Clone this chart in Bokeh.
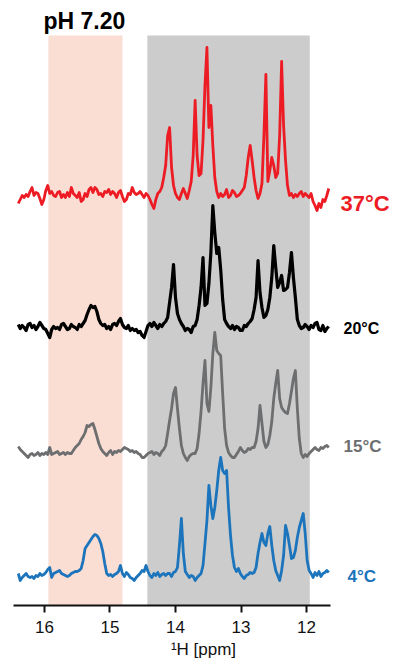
from bokeh.plotting import figure
from bokeh.models import Range1d, BoxAnnotation, Label, FixedTicker
from bokeh.embed import file_html
from bokeh.resources import INLINE

# chemical shift grid (ppm), shared by all four spectra
ppm = [
    16.40, 16.37, 16.34, 16.31, 16.28, 16.25, 16.22, 16.19, 16.16, 16.13,
    16.10, 16.07, 16.04, 16.01, 15.98, 15.95, 15.92, 15.89, 15.86, 15.83,
    15.80, 15.77, 15.74, 15.71, 15.68, 15.65, 15.62, 15.59, 15.56, 15.53,
    15.50, 15.47, 15.44, 15.41, 15.38, 15.35, 15.32, 15.29, 15.26, 15.23,
    15.20, 15.17, 15.14, 15.11, 15.08, 15.05, 15.02, 14.99, 14.96, 14.93,
    14.90, 14.87, 14.84, 14.81, 14.78, 14.75, 14.72, 14.69, 14.66, 14.63,
    14.60, 14.57, 14.54, 14.51, 14.48, 14.45, 14.42, 14.39, 14.36, 14.33,
    14.30, 14.27, 14.24, 14.21, 14.18, 14.15, 14.12, 14.09, 14.06, 14.03,
    14.00, 13.97, 13.94, 13.91, 13.88, 13.85, 13.82, 13.79, 13.76, 13.73,
    13.70, 13.67, 13.64, 13.61, 13.58, 13.55, 13.52, 13.49, 13.46, 13.43,
    13.40, 13.37, 13.34, 13.31, 13.28, 13.25, 13.22, 13.19, 13.16, 13.13,
    13.10, 13.07, 13.04, 13.01, 12.98, 12.95, 12.92, 12.89, 12.86, 12.83,
    12.80, 12.77, 12.74, 12.71, 12.68, 12.65, 12.62, 12.59, 12.56, 12.53,
    12.50, 12.47, 12.44, 12.41, 12.38, 12.35, 12.32, 12.29, 12.26, 12.23,
    12.20, 12.17, 12.14, 12.11, 12.08, 12.05, 12.02, 11.99, 11.96, 11.93,
    11.90, 11.87, 11.84, 11.81, 11.78, 11.75, 11.72, 11.69, 11.66,
]

# intensities (arbitrary units)
int_37C = [
    -8, -4, 0, -2, 1, -1, 4, 8, 0, 3,
    2, -3, -9, -4, 5, 10, 2, 4, 0, -1,
    3, 4, -2, 1, -2, 3, -1, 8, 2, 0,
    -2, 3, -6, -4, 2, -1, 6, 8, 3, 8,
    6, 1, 2, -1, 4, 3, 6, 1, 4, 2,
    -2, 3, 5, -1, -6, -4, 2, 1, 8, 3,
    1, 2, 4, 1, -2, 2, 0, -4, -9, -13,
    -4, 2, 4, 8, 18, 30, 60, 68, 28, 10,
    2, -2, -4, 2, 7, 2, -3, 5, 14, 40,
    95, 40, 20, 22, 55, 110, 148, 68, 90, 50,
    18, 4, -2, 2, -1, 1, 6, -2, 0, 5,
    3, -1, 0, 2, 5, 8, 20, 38, 50, 35,
    18, 5, -3, 2, 12, 60, 121, 14, 25, 38,
    30, 18, 22, 60, 134, 70, 35, 10, 0, 2,
    -2, 1, -1, 2, 4, -1, 2, 0, -2, 2,
    -6, -10, -15, -8, -12, -4, -6, 0, 7,
]

int_20C = [
    3, -1, 2, 0, -3, 3, 4, 0, 2, -2,
    1, 5, 2, -1, -2, -6, -10, -2, 1, -1,
    0, -2, 3, 4, 1, -2, -1, 3, 1, 0,
    -2, 3, 1, 4, 7, 13, 18, 22, 20, 21,
    16, 8, 4, 2, 3, -1, 1, -2, 3, 4,
    2, 6, 9, 3, 0, -1, 2, -3, -1, -3,
    -2, -5, -4, -8, -10, -4, 2, 4, 1, 5,
    2, -1, 3, 1, 4, 6, 10, 25, 40, 63,
    30, 14, 8, 4, 1, -3, -1, -2, -5, 1,
    2, 8, 22, 40, 70, 22, 24, 44, 75, 122,
    95, 74, 80, 58, 28, 8, 4, 1, -1, 2,
    -2, 1, 0, -3, -3, 2, 1, 4, 6, 9,
    18, 30, 67, 35, 20, 10, 12, 18, 30, 50,
    82, 60, 40, 45, 52, 37, 38, 40, 55, 75,
    50, 30, 8, 2, -1, 0, 3, 1, -2, 2,
    0, 4, 5, -2, -3, 2, -4, -1, 1,
]

int_15C = [
    7, 4, 2, 0, -2, -4, -1, 0, -2, -1,
    1, -2, 0, -1, 1, -1, 6, -1, 0, 1,
    2, -1, 0, 1, -1, 1, 0, 0, 3, 6,
    8, 10, 14, 17, 21, 28, 27, 29, 30, 24,
    17, 10, 5, 2, 0, -2, 1, 3, -1, 2,
    1, 3, 2, 4, 6, 5, 4, 2, 3, 1,
    2, 0, -1, -4, -4, -2, 0, 1, 2, -1,
    1, 0, -2, 2, 4, 8, 20, 33, 45, 60,
    66, 45, 25, 8, 0, -4, -7, -3, -1, 0,
    0, 5, 20, 42, 70, 93, 50, 42, 66, 100,
    121, 103, 100, 98, 60, 25, 8, 1, -2, -4,
    -4, -1, 2, 6, 3, 1, 2, 5, 4, 6,
    6, 12, 25, 48, 30, 12, 6, 9, 18, 32,
    55, 70, 83, 55, 46, 43, 41, 40, 50, 62,
    75, 83, 45, 15, 0, -4, -1, -3, 0, 2,
    4, 6, 4, 3, 6, 5, 7, 8, 6,
]

int_4C = [
    2, -5, -2, 0, 2, -1, -2, -1, -3, 0,
    -1, 2, 0, 1, 3, 6, 8, -2, 2, 3,
    4, 5, 2, 1, 0, -1, 0, 2, 3, 4,
    4, 5, 7, 15, 27, 30, 33, 36, 39, 41,
    40, 37, 32, 24, 12, 2, 0, 1, -1, 1,
    2, 4, 10, 2, -1, 3, 1, -2, -3, -5,
    -2, 0, 2, 5, 4, 10, 4, 0, -2, 2,
    0, 3, -1, 1, 2, 0, 2, 2, -1, 3,
    4, 8, 30, 57, 22, 4, 1, -2, 0, -1,
    -5, -2, 0, 2, 10, 32, 55, 90, 70, 57,
    68, 85, 105, 118, 105, 102, 105, 68, 40, 20,
    8, 4, 7, 2, -1, -3, 0, 1, 3, 2,
    3, 8, 22, 33, 42, 33, 30, 42, 49, 30,
    15, 5, 0, -5, 5, 20, 50, 42, 30, 17,
    18, 25, 38, 48, 55, 62, 42, 15, 5, 2,
    -2, 3, 0, 4, -1, 2, 3, 5, 3,
]

temp_labels = ["37°C", "20°C", "15°C", "4°C"]
salmon_region = [15.94, 14.81]
grey_region = [14.43, 11.95]
x_ticks = [16, 15, 14, 13, 12]
axis_extent = [16.473, 11.634]
title_text = "pH 7.20"

FONT = "Liberation Sans"

# frame spans the whole width and everything above the axis, so the
# side labels and the title can be drawn inside it
p = figure(width=393, height=668,
           x_range=Range1d(16.473, 10.672), y_range=Range1d(0, 605),
           y_axis_type=None, output_backend="svg", toolbar_location=None,
           min_border_left=13, min_border_right=0,
           min_border_top=0, min_border_bottom=63)
p.outline_line_color = None
p.xgrid.visible = False
p.ygrid.visible = False
p.background_fill_color = "white"
p.border_fill_color = "white"

BOX_TOP = 570
p.add_layout(BoxAnnotation(left=salmon_region[1], right=salmon_region[0],
                           bottom=0, top=BOX_TOP,
                           fill_color="#FADDD3", fill_alpha=1.0,
                           line_color=None, level="underlay"))
p.add_layout(BoxAnnotation(left=grey_region[1], right=grey_region[0],
                           bottom=0, top=BOX_TOP,
                           fill_color="#CCCCCC", fill_alpha=1.0,
                           line_color=None, level="underlay"))

series = [int_37C, int_20C, int_15C, int_4C]
offsets = [410, 278, 152, 30]
colors = ["#ED1C24", "#000000", "#6D6E70", "#1C75BC"]
widths = [2.8, 3.2, 2.8, 2.8]
for vals, off, col, lw in zip(series, offsets, colors, widths):
    p.line(ppm, [v + off for v in vals], line_color=col, line_width=lw,
           line_join="round")

label_specs = [
    (11.481, 402, "22px"),
    (11.435, 277, "16px"),
    (11.435, 159, "17px"),
    (11.374, 29, "17px"),
]
for txt, col, (lx, ly, fs) in zip(temp_labels, colors, label_specs):
    p.add_layout(Label(x=lx, y=ly, text=txt, text_color=col,
                       text_font=FONT, text_font_style="bold",
                       text_font_size=fs, text_align="left",
                       text_baseline="middle"))

p.add_layout(Label(x=16.015, y=585, text=title_text, text_color="#000000",
                   text_font=FONT, text_font_style="bold",
                   text_font_size="23px", text_align="left",
                   text_baseline="middle"))

ax = p.xaxis[0]
ax.bounds = (axis_extent[1], axis_extent[0])
ax.ticker = FixedTicker(ticks=x_ticks)
ax.minor_tick_line_color = None
ax.axis_line_width = 2
ax.axis_line_color = "#111111"
ax.major_tick_line_width = 2
ax.major_tick_line_color = "#111111"
ax.major_tick_out = 7
ax.major_tick_in = 0
ax.major_label_standoff = 8
ax.major_label_text_font = FONT
ax.major_label_text_font_size = "17px"
ax.major_label_text_color = "#111111"
ax.axis_label = "¹H [ppm]"
ax.axis_label_text_font = FONT
ax.axis_label_text_font_size = "17px"
ax.axis_label_text_font_style = "normal"
ax.axis_label_text_color = "#111111"
ax.axis_label_standoff = 4

open("out.html", "w").write(file_html(p, INLINE))
